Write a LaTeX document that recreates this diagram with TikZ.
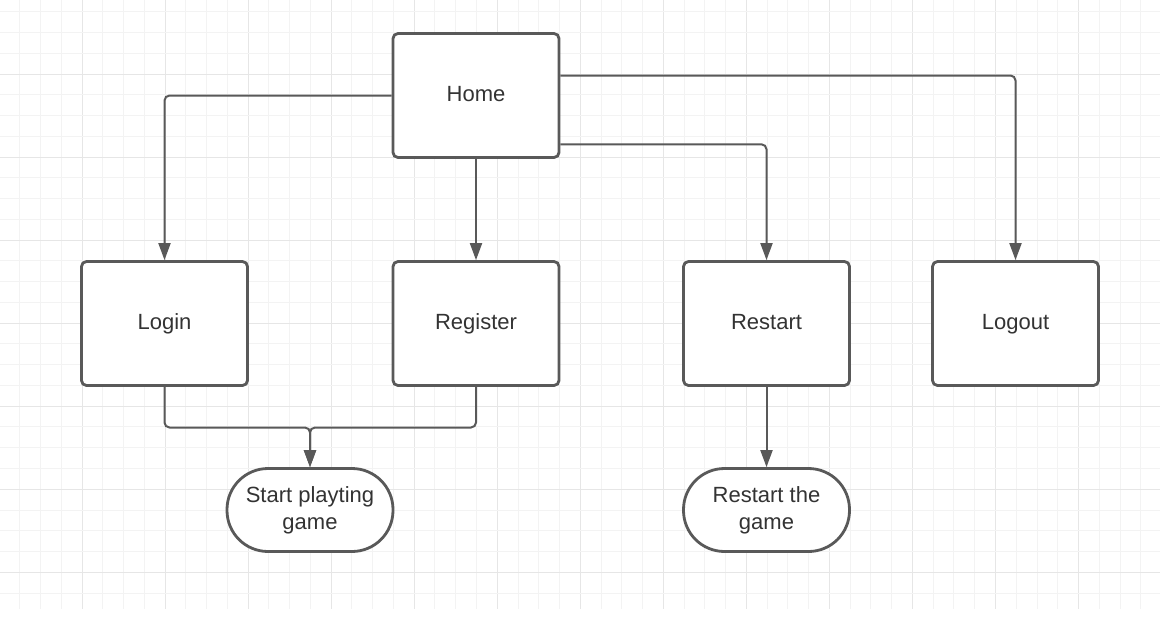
\documentclass[tikz,border=0pt]{standalone}
\usepackage{fontspec}
\setmainfont{Liberation Sans}
\usetikzlibrary{arrows.meta,calc}
\definecolor{linec}{HTML}{595959}
\definecolor{textc}{HTML}{333333}
\definecolor{gridminor}{HTML}{F3F3F3}
\definecolor{gridmajor}{HTML}{E6E6E6}
\tikzset{
  basebox/.style={draw=linec, line width=2.8pt, rounded corners=5pt, fill=white,
    minimum width=166pt, minimum height=124pt, inner sep=0pt,
    text=textc, font=\fontsize{22}{27}\selectfont, align=center},
  box/.style={basebox, text height=15.8pt, text depth=3pt},
  term/.style={basebox, minimum height=83pt, rounded corners=41pt},
  conn/.style={draw=linec, line width=2pt, rounded corners=5pt,
    -{Triangle[length=17pt,width=12pt]}}
}
\begin{document}
\begin{tikzpicture}[x=1pt,y=-1pt]
\useasboundingbox (0,0) rectangle (1172,622);
\fill[white] (0,0) rectangle (1172,622);
% grid
\begin{scope}
\clip (0,0) rectangle (1160,609);
\foreach \i in {1,...,55}{
  \pgfmathsetmacro{\xx}{-1+20.76*\i}
  \pgfmathtruncatemacro{\mm}{mod(\i,4)}
  \ifnum\mm=0
    \draw[gridmajor, line width=1pt] (\xx,0) -- (\xx,609);
  \else
    \draw[gridminor, line width=1pt] (\xx,0) -- (\xx,609);
  \fi
}
\foreach \j in {1,...,29}{
  \pgfmathsetmacro{\yy}{-9+20.76*\j}
  \pgfmathtruncatemacro{\mm}{mod(\j,4)}
  \ifnum\mm=0
    \draw[gridmajor, line width=1pt] (0,\yy) -- (1160,\yy);
  \else
    \draw[gridminor, line width=1pt] (0,\yy) -- (1160,\yy);
  \fi
}
\end{scope}
% nodes
\node[box] (home) at (476,95.5) {Home};
\node[box] (login) at (164.5,323.5) {Login};
\node[box] (register) at (476,323.5) {Register};
\node[box] (restart) at (766.5,323.5) {Restart};
\node[box] (logout) at (1015.5,323.5) {Logout};
\node[term] (start) at (310,510) {Start playting\\game};
\node[term] (restartgame) at (766.5,510) {Restart the\\game};
% connectors
\coordinate (hA) at ($(home.north east)+(0,43.4)$);
\coordinate (hB) at ($(home.south east)+(0,-14.6)$);
\coordinate (J) at (310,427.5);
\draw[conn] (home.west) -| (login.north);
\draw[conn] (home.south) -- (register.north);
\draw[conn] (hB) -| (restart.north);
\draw[conn] (hA) -| (logout.north);
\draw[conn] (login.south) |- (J) -- (start.north);
\draw[conn] (register.south) |- (J) -- (start.north);
\draw[conn] (restart.south) -- (restartgame.north);
\end{tikzpicture}
\end{document}
